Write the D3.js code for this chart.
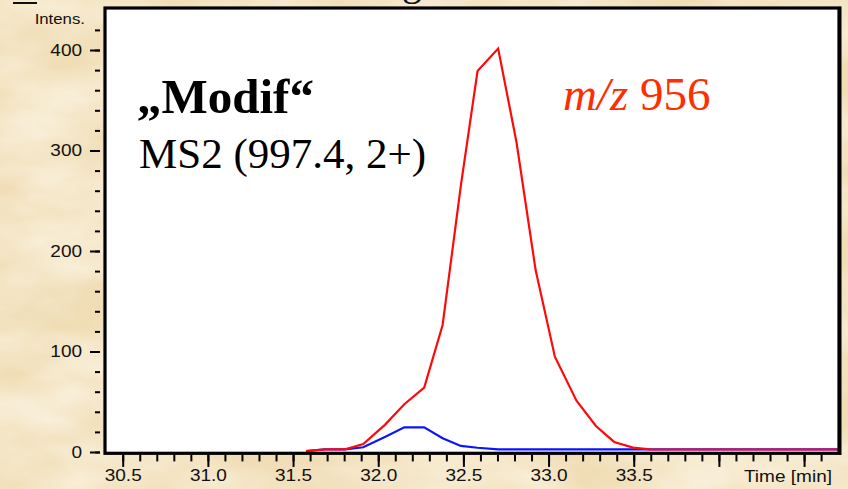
<!DOCTYPE html>
<html><head><meta charset="utf-8">
<script src="https://cdn.jsdelivr.net/npm/d3@7"></script>
<style>
html,body{margin:0;padding:0;background:#f1e0ba;}
svg{display:block;}
</style></head><body>
<svg id="chart" width="848" height="489"></svg>
<script>
// ---- data ----
const times = [31.576, 31.688, 31.805, 31.912, 32.039, 32.153, 32.270, 32.378, 32.485, 32.583, 32.704, 32.812, 32.924, 33.037, 33.164, 33.278, 33.385, 33.496, 33.594, 33.71, 33.82, 33.93, 34.04, 34.15, 34.27, 34.38, 34.49, 34.60, 34.72];
const redValues = [1, 2.7, 2.7, 8, 27, 47.5, 64, 126.4, 265, 379, 401.5, 308, 181, 94.8, 51, 25.9, 10, 4.3, 2.7, 2.5, 2.5, 2.5, 2.5, 2.5, 2.5, 2.5, 2.5, 2.5, 2.5];
const blueValues = [1, 2.7, 2.7, 4.7, 15, 24.5, 24.5, 13.7, 6, 4.2, 2.7, 2.7, 2.7, 2.7, 2.7, 2.7, 2.7, 2.7, 2.7, 2.7, 2.7, 2.7, 2.7, 2.7, 2.7, 2.7, 2.7, 2.7, 2.7];
const xMajorTicks = [30.5, 31.0, 31.5, 32.0, 32.5, 33.0, 33.5, 34.0, 34.5];
const xTickLabels = ["30.5", "31.0", "31.5", "32.0", "32.5", "33.0", "33.5", "", ""];
const yMajorTicks = [0, 100, 200, 300, 400];
const yTickLabels = ["0", "100", "200", "300", "400"];
const xDomain = [30.396, 34.705];
const yDomain = [-1.3, 441.8];
const xTitle = "Time [min]";
const yTitle = "Intens.";
const labelBold = "\u201EModif\u201C";
const labelScan = "MS2 (997.4, 2+)";

const svg = d3.select("#chart");
const defs = svg.append("defs");

// parchment background
const f = defs.append("filter").attr("id", "paper").attr("x", 0).attr("y", 0).attr("width", 1).attr("height", 1);
f.append("feTurbulence").attr("type", "fractalNoise").attr("baseFrequency", "0.008 0.018").attr("numOctaves", 4).attr("seed", 7);
f.append("feColorMatrix").attr("type", "matrix")
  .attr("values", "0 0 0 0 0.99  0 0 0 0 0.955  0 0 0 0 0.87  1.3 0 0 0 -0.42");
svg.append("rect").attr("width", 848).attr("height", 489).attr("fill", "#f0ddb5");
svg.append("rect").attr("width", 848).attr("height", 489).attr("filter", "url(#paper)");

const x = d3.scaleLinear().domain(xDomain).range([105, 839]);
const y = d3.scaleLinear().domain(yDomain).range([453.3, 8]);

// plot area
const [px0, px1] = x.range();
const [py1, py0] = y.range();
defs.append("clipPath").attr("id", "clip").append("rect")
  .attr("x", px0).attr("y", py0).attr("width", px1 - px0).attr("height", py1 - py0);
svg.append("rect").attr("x", px0).attr("y", py0).attr("width", px1 - px0).attr("height", py1 - py0)
  .attr("fill", "#ffffff");

// lines
const line = d3.line().x(d => x(d[0])).y(d => y(d[1]));
const g = svg.append("g").attr("clip-path", "url(#clip)");
g.append("path").datum(times.map((t, i) => [t, blueValues[i]]))
  .attr("d", line).attr("fill", "none").attr("stroke", "#0a14ff").attr("stroke-width", 2.2);
g.append("path").datum(times.map((t, i) => [t, redValues[i]]))
  .attr("d", line).attr("fill", "none").attr("stroke", "#ff0a0a").attr("stroke-width", 2.2);

// frame
svg.append("rect").attr("x", px0).attr("y", py0).attr("width", px1 - px0).attr("height", py1 - py0)
  .attr("fill", "none").attr("stroke", "#000").attr("stroke-width", 3.2);
svg.append("line").attr("x1", px1 + 1.5).attr("x2", px1 + 1.5).attr("y1", py0 - 1.6).attr("y2", py1 + 1.6)
  .attr("stroke", "#000").attr("stroke-width", 2);

const fontSans = "Arial, 'Liberation Sans', Helvetica, sans-serif";
const fontSerif = "'Times New Roman', 'Liberation Serif', Times, serif";
const sx = 1.12;

// x axis
const xMinor = d3.range(30.5, 34.65, 0.1).map(v => Math.round(v * 10) / 10);
const xAxisY = py1 + 1.6;
svg.append("g").attr("transform", `translate(0,${xAxisY})`)
  .call(d3.axisBottom(x).tickValues(xMinor).tickSize(6.5).tickFormat(""))
  .call(s => s.select(".domain").remove())
  .call(s => s.selectAll("line").attr("stroke", "#000").attr("stroke-width", 2));
const xa = svg.append("g").attr("transform", `translate(0,${xAxisY})`)
  .call(d3.axisBottom(x).tickValues(xMajorTicks).tickSize(12).tickPadding(2)
    .tickFormat((d, i) => xTickLabels[i]))
  .call(s => s.select(".domain").remove())
  .call(s => s.selectAll("line").attr("stroke", "#000").attr("stroke-width", 2));
xa.selectAll("text").attr("font-family", fontSans).attr("font-size", 17).attr("fill", "#111")
  .attr("transform", `scale(${sx},1)`);
svg.append("text").attr("transform", `translate(832,482) scale(${sx},1)`)
  .attr("text-anchor", "end").attr("font-family", fontSans).attr("font-size", 17).attr("fill", "#111")
  .text(xTitle);

// y axis
const yMinor = d3.range(0, 421, 20);
const yAxisX = 100;
svg.append("g").attr("transform", `translate(${yAxisX},0)`)
  .call(d3.axisLeft(y).tickValues(yMinor).tickSize(5).tickFormat(""))
  .call(s => s.select(".domain").remove())
  .call(s => s.selectAll("line").attr("stroke", "#000").attr("stroke-width", 2));
const ya = svg.append("g").attr("transform", `translate(${yAxisX},0)`)
  .call(d3.axisLeft(y).tickValues(yMajorTicks).tickSize(10).tickPadding(6)
    .tickFormat((d, i) => yTickLabels[i]))
  .call(s => s.select(".domain").remove())
  .call(s => s.selectAll("line").attr("stroke", "#000").attr("stroke-width", 2));
ya.selectAll("text").attr("font-family", fontSans).attr("font-size", 17).attr("fill", "#111")
  .attr("transform", `scale(${sx},1)`);
svg.append("text").attr("transform", `translate(85,24) scale(${sx},1)`)
  .attr("text-anchor", "end").attr("font-family", fontSans).attr("font-size", 15).attr("fill", "#111")
  .text(yTitle);

// cut-off header remnants
svg.append("line").attr("x1", 13).attr("x2", 37).attr("y1", 3).attr("y2", 3)
  .attr("stroke", "#111").attr("stroke-width", 2);
svg.append("text").attr("x", 402).attr("y", -5).attr("font-family", fontSerif).attr("font-size", 40)
  .attr("fill", "#111").text("g");

// annotations
svg.append("text").attr("x", 137).attr("y", 113).attr("font-family", fontSerif)
  .attr("font-size", 49).attr("font-weight", "bold").attr("fill", "#000").text(labelBold);
svg.append("text").attr("x", 139).attr("y", 168).attr("font-family", fontSerif)
  .attr("font-size", 43).attr("fill", "#000").text(labelScan);
const mz = svg.append("text").attr("x", 563).attr("y", 110).attr("font-family", fontSerif)
  .attr("font-size", 47).attr("fill", "#ff2d00");
mz.append("tspan").attr("font-style", "italic").text("m/z");
mz.append("tspan").text(" 956");
</script>
</body></html>
